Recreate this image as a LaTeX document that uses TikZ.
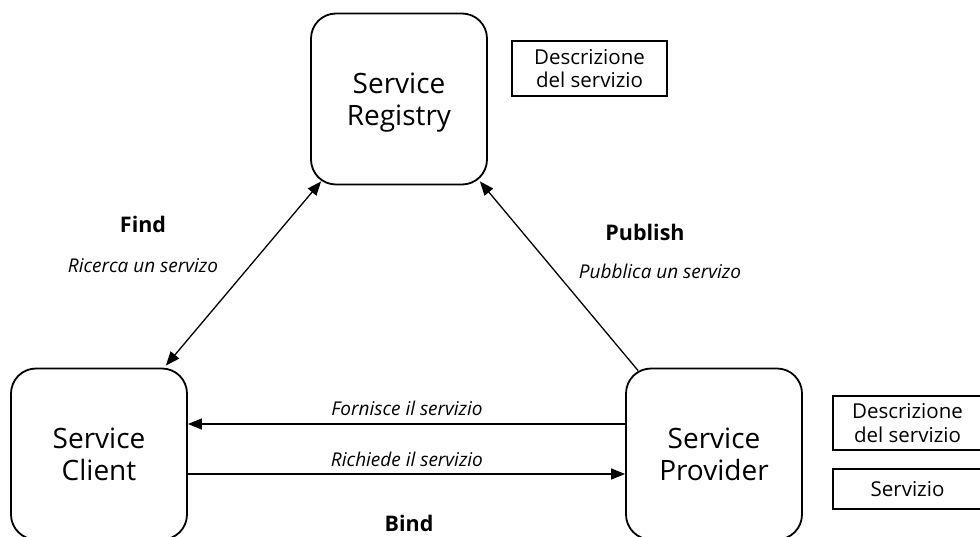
\documentclass[tikz,border=0pt]{standalone}
\usepackage{fontspec}
\setmainfont{Open Sans}
\usetikzlibrary{arrows.meta,calc}
\tikzset{
  actor/.style={draw, line width=1.8pt, rounded corners=25pt, minimum width=176pt,
    minimum height=171pt, align=center, inner sep=0pt, text depth=0pt,
    font=\fontsize{28}{32}\selectfont},
  docbox/.style={draw, line width=1.2pt, align=center, inner sep=0pt,
    font=\fontsize{20.5}{23.5}\selectfont},
  arr/.style={line width=1.3pt, -{Triangle[length=14pt,width=11pt]}},
  arrboth/.style={line width=1.3pt, {Triangle[length=14pt,width=11pt]}-{Triangle[length=14pt,width=11pt]}},
  opname/.style={font=\bfseries\fontsize{21.5}{24}\selectfont},
  opdesc/.style={font=\itshape\fontsize{19}{22}\selectfont},
}
\begin{document}
\begin{tikzpicture}[x=1pt,y=-1pt]
\clip (0,0) rectangle (980,536);

% the three roles
\node[actor] (registry) at (399,99) {Service\\Registry};
\node[actor] (client) at (99,454) {Service\\Client};
\node[actor] (provider) at (714,454) {Service\\Provider};

% artefacts held by registry and provider
\node[docbox, minimum width=155pt, minimum height=55pt] (regdesc) at (589.5,68.5) {Descrizione\\del servizio};
\node[docbox, minimum width=149pt, minimum height=54pt] (provdesc) at (907.5,423) {Descrizione\\del servizio};
\node[docbox, minimum width=149pt, minimum height=40pt] (provsvc) at (907.5,489) {Servizio};

% find
\draw[arrboth] ($(client.north east)+(-22,-2)$) -- ($(registry.south west)+(11,-4)$);
\node[opname] (findlbl) at (143,224) {Find};
\node[opdesc] (finddesc) at (143,266) {Ricerca un servizo};

% publish
\draw[arr] ($(provider.north west)+(13,3)$) -- ($(registry.south east)+(-8,-4)$);
\node[opname] (publbl) at (645,232) {Publish};
\node[opdesc] (pubdesc) at (660,271) {Pubblica un servizo};

% bind
\draw[arr] ($(provider.west)+(0,-30)$) -- ($(client.east)+(0,-30)$);
\draw[arr] ($(client.east)+(0,20)$) -- ($(provider.west)+(0,20)$);
\node[opdesc] (givelbl) at (407,408) {Fornisce il servizio};
\node[opdesc] (asklbl) at (407,459) {Richiede il servizio};
\node[opname] (bindlbl) at (409,523) {Bind};
\end{tikzpicture}
\end{document}
